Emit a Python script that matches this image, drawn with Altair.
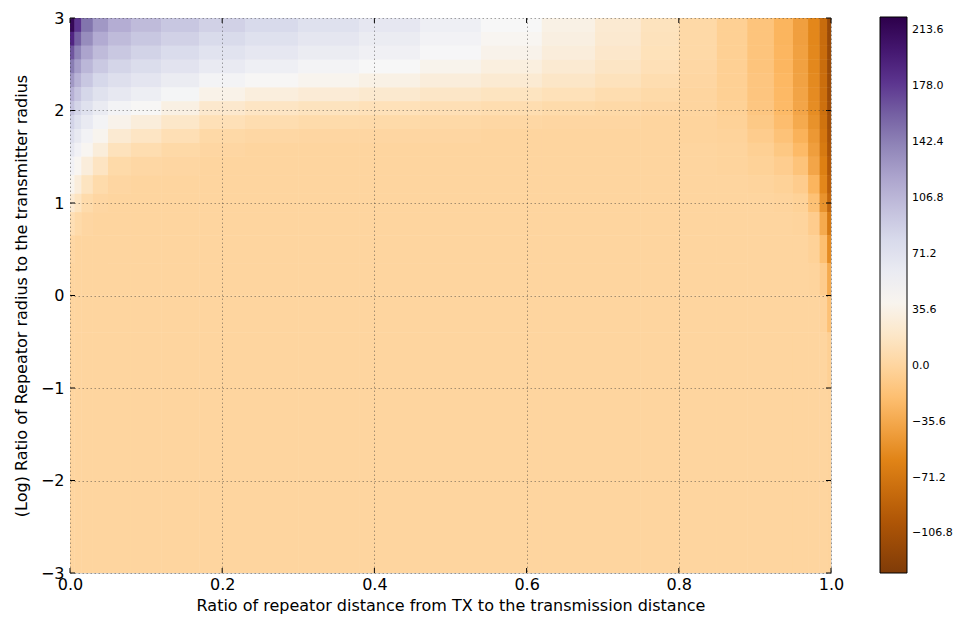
import altair as alt
import numpy as np
import pandas as pd

# ---- grid geometry (cell edges) ----
x_edges = [0.0, 0.006, 0.015, 0.03, 0.05, 0.08, 0.12, 0.17, 0.23, 0.3, 0.38, 0.46,
           0.54, 0.62, 0.69, 0.75, 0.8, 0.85, 0.89, 0.925, 0.95, 0.97, 0.985, 0.995, 1.0]
# top -> bottom
y_edges = [3.0, 2.85, 2.7, 2.55, 2.4, 2.25, 2.1, 1.95, 1.8, 1.65, 1.5, 1.3, 1.1,
           0.9, 0.65, 0.35, 0.0, -0.4, -1.0, -3.0]

# ---- estimated values, one list per x-column (top -> bottom) ----
c00 = [215, 190, 165, 145, 128, 112, 98, 85, 74, 63, 52, 40, 25, 9, 2, 0, 0, 0, 0]
c01 = [180, 160, 140, 124, 110, 96, 84, 72, 62, 52, 42, 30, 15, 4, 0, 0, 0, 0, 0]
c02 = [150, 135, 120, 107, 95, 83, 72, 61, 51, 42, 30, 15, 5, 1, 0, 0, 0, 0, 0]
c03 = [128, 116, 104, 93, 82, 71, 60, 50, 40, 29, 16, 5, 1, 0, 0, 0, 0, 0, 0]
c04 = [114, 104, 94, 84, 74, 63, 50, 38, 25, 13, 4, 1, 0, 0, 0, 0, 0, 0, 0]
c05 = [104, 95, 86, 77, 67, 56, 44, 30, 17, 7, 2, 0, 0, 0, 0, 0, 0, 0, 0]
c06 = [95, 87, 78, 69, 59, 48, 34, 20, 9, 3, 1, 0, 0, 0, 0, 0, 0, 0, 0]
c07 = [87, 79, 70, 61, 50, 37, 22, 10, 3, 1, 0, 0, 0, 0, 0, 0, 0, 0, 0]
c08 = [80, 72, 64, 55, 44, 31, 17, 7, 2, 0, 0, 0, 0, 0, 0, 0, 0, 0, 0]
c09 = [72, 66, 59, 50, 40, 27, 14, 5, 1, 0, 0, 0, 0, 0, 0, 0, 0, 0, 0]
c10 = [64, 59, 53, 45, 35, 23, 11, 4, 1, 0, 0, 0, 0, 0, 0, 0, 0, 0, 0]
c11 = [55, 51, 46, 39, 30, 19, 9, 3, 1, 0, 0, 0, 0, 0, 0, 0, 0, 0, 0]
c12 = [45, 42, 38, 32, 25, 15, 7, 2, 0, 0, 0, 0, 0, 0, 0, 0, 0, 0, 0]
c13 = [35, 33, 30, 25, 19, 11, 5, 1, 0, 0, 0, 0, 0, 0, 0, 0, 0, 0, 0]
c14 = [25, 24, 21, 18, 13, 7, 3, 1, 0, 0, 0, 0, 0, 0, 0, 0, 0, 0, 0]
c15 = [14, 13, 12, 10, 7, 4, 2, 0, 0, 0, 0, 0, 0, 0, 0, 0, 0, 0, 0]
c16 = [3, 3, 3, 2, 1, 0, 0, -1, -1, 0, 0, 0, 0, 0, 0, 0, 0, 0, 0]
c17 = [-5, -5, -5, -5, -5, -5, -4, -3, -2, -1, -1, 0, 0, 0, 0, 0, 0, 0, 0]
c18 = [-15, -15, -15, -15, -14, -14, -13, -11, -8, -5, -3, -1, 0, 0, 0, 0, 0, 0, 0]
c19 = [-28, -28, -27, -27, -26, -25, -24, -21, -17, -12, -7, -3, -1, 0, 0, 0, 0, 0, 0]
c20 = [-42, -42, -41, -41, -40, -39, -38, -35, -30, -24, -16, -8, -3, -1, 0, 0, 0, 0, 0]
c21 = [-58, -58, -57, -57, -56, -55, -54, -51, -47, -43, -38, -28, -18, -8, -3, -1, 0, 0, 0]
c22 = [-80, -80, -79, -79, -78, -77, -76, -74, -71, -68, -63, -58, -50, -35, -20, -8, -2, 0, 0]
c23 = [-115, -115, -114, -114, -113, -112, -111, -109, -106, -103, -98, -92, -85, -70, -55, -35, -18, -5, -1]
columns = [c00, c01, c02, c03, c04, c05, c06, c07, c08, c09, c10, c11,
           c12, c13, c14, c15, c16, c17, c18, c19, c20, c21, c22, c23]

x_ticks = [0.0, 0.2, 0.4, 0.6, 0.8, 1.0]
y_ticks = [-3, -2, -1, 0, 1, 2, 3]
cbar_ticks = [-106.8, -71.2, -35.6, 0.0, 35.6, 71.2, 106.8, 142.4, 178.0, 213.6]
cbar_min, cbar_max = -132.0, 222.0
puor = ["#7f3b08", "#b35806", "#e08214", "#fdb863", "#fee0b6", "#f7f7f7",
        "#d8daeb", "#b2abd2", "#8073ac", "#542788", "#2d004b"]
x_title = "Ratio of repeator distance from TX to the transmission distance"
y_title = "(Log) Ratio of Repeator radius to the transmitter radius"

records = []
for ci, col in enumerate(columns):
    for ri, v in enumerate(col):
        records.append({"x0": x_edges[ci], "x1": x_edges[ci + 1],
                        "y0": y_edges[ri + 1], "y1": y_edges[ri], "v": v})
df = pd.DataFrame(records)

stops = [float(s) for s in np.linspace(cbar_min, cbar_max, len(puor))]

W, H = 761, 555
FONT = "DejaVu Sans"

xscale = alt.Scale(domain=[0, 1], nice=False, zero=False)
yscale = alt.Scale(domain=[-3, 3], nice=False, zero=False)

common_axis = dict(labelFontSize=16, labelFont=FONT, labelColor="black",
                   labelFlush=False, ticks=False, domain=False, grid=True,
                   gridColor="#333", gridDash=[1.5, 2.5], gridOpacity=0.55,
                   gridWidth=0.8, titleFontSize=16, titleFont=FONT,
                   titleFontWeight="normal", titleColor="black", zindex=1)
x_axis = alt.Axis(values=x_ticks, format=".1f", labelPadding=3, titlePadding=5,
                  **common_axis)
y_axis = alt.Axis(values=y_ticks, format="d", labelPadding=6, titlePadding=11,
                  **common_axis)

color_legend = alt.Legend(orient="none", legendX=810, legendY=-1,
                          direction="vertical", gradientLength=556,
                          gradientThickness=27, values=cbar_ticks, format=".1f",
                          labelFont=FONT, labelFontSize=11, labelColor="black",
                          labelOffset=5, labelOverlap=False,
                          gradientStrokeColor="black", gradientStrokeWidth=1)

heat = alt.Chart(df).mark_rect().encode(
    x=alt.X("x0:Q", scale=xscale, title=x_title, axis=x_axis),
    x2="x1:Q",
    y=alt.Y("y0:Q", scale=yscale, title=y_title, axis=y_axis),
    y2="y1:Q",
    color=alt.Color("v:Q", title=None,
                    scale=alt.Scale(domain=stops, range=puor, interpolate="rgb"),
                    legend=color_legend),
)

xt = pd.DataFrame({"t": x_ticks})
yt = pd.DataFrame({"t": y_ticks})
tx = alt.X("t:Q", scale=xscale, title=x_title, axis=x_axis)
ty = alt.Y("t:Q", scale=yscale, title=y_title, axis=y_axis)
tick_b = alt.Chart(xt).mark_rule(color="black", strokeWidth=1).encode(
    x=tx, y=alt.value(H), y2=alt.value(H - 5))
tick_t = alt.Chart(xt).mark_rule(color="black", strokeWidth=1).encode(
    x=tx, y=alt.value(0), y2=alt.value(5))
tick_l = alt.Chart(yt).mark_rule(color="black", strokeWidth=1).encode(
    y=ty, x=alt.value(0), x2=alt.value(5))
tick_r = alt.Chart(yt).mark_rule(color="black", strokeWidth=1).encode(
    y=ty, x=alt.value(W), x2=alt.value(W - 5))

# heat drawn twice so that antialiased seams between cells disappear
chart = alt.layer(heat, heat, tick_b, tick_t, tick_l, tick_r).properties(
    width=W, height=H,
    autosize=alt.AutoSizeParams(type="none"),
    padding={"left": 70, "top": 18, "right": 133, "bottom": 48},
    background="white",
).configure_view(stroke="black", strokeWidth=1.2, fill="#fdd59f").configure(font=FONT)

chart.save("out.html", embed_options={"renderer": "svg", "actions": False})
